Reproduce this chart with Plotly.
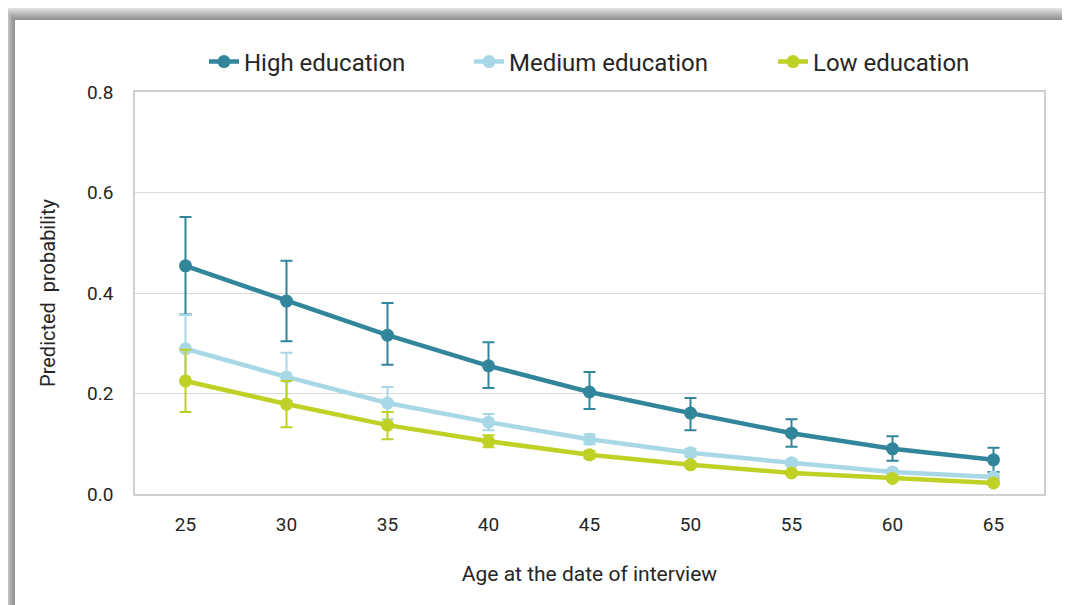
import plotly.graph_objects as go

ages = [25, 30, 35, 40, 45, 50, 55, 60, 65]

high = [0.454, 0.384, 0.316, 0.255, 0.203, 0.161, 0.121, 0.090, 0.068]
high_up = [0.097, 0.080, 0.064, 0.047, 0.040, 0.030, 0.028, 0.025, 0.024]
high_down = [0.097, 0.080, 0.059, 0.044, 0.034, 0.034, 0.027, 0.024, 0.024]

medium = [0.289, 0.233, 0.181, 0.143, 0.109, 0.082, 0.062, 0.044, 0.034]
medium_up = [0.067, 0.048, 0.032, 0.016, 0.010, 0.008, 0.006, 0.005, 0.005]
medium_down = [0.067, 0.048, 0.032, 0.016, 0.010, 0.008, 0.006, 0.005, 0.005]

low = [0.225, 0.179, 0.137, 0.105, 0.078, 0.058, 0.042, 0.031, 0.022]
low_up = [0.062, 0.046, 0.026, 0.012, 0.007, 0.005, 0.004, 0.003, 0.003]
low_down = [0.062, 0.046, 0.028, 0.012, 0.007, 0.005, 0.004, 0.003, 0.003]

names = ["High education", "Medium education", "Low education"]
colors = ["#31869B", "#A8D8E5", "#BFD124"]
legend_ids = ["legend", "legend2", "legend3"]
legend_px = [204, 469, 773]  # left edge of each legend entry (page px)

font = "Roboto, Arial"

# the page body has an 8px margin, so work in page pixels and shift
OFF = 8
FW, FH = 1070 - OFF, 605 - OFF
L, R, T, B = 135, 1044, 92, 494
W, H = R - L, B - T


def px(x):
    return (x - L) / W


def py(y):
    return (B - y) / H


fig = go.Figure()
for name, y, up, down, c, lg in zip(names, [high, medium, low],
                                    [high_up, medium_up, low_up],
                                    [high_down, medium_down, low_down], colors, legend_ids):
    fig.add_trace(go.Scatter(
        x=ages, y=y, name=name, mode="lines+markers", legend=lg,
        line=dict(color=c, width=4.5),
        marker=dict(color=c, size=13),
        error_y=dict(type="data", array=up, arrayminus=down, visible=True,
                     color=c, thickness=2, width=6),
    ))

# gray drop shadow around the chart frame (top and left)
shapes = []
steps = 10
for i in range(steps):
    g = int(250 - (250 - 145) * (i + 1) / steps)
    col = f"rgb({g},{g},{g})"
    top_y0 = 6 + i * 1.4
    left_x0 = 2 + i * 1.3
    shapes.append(dict(type="rect", xref="paper", yref="paper",
                       x0=px(max(left_x0, OFF)), x1=px(1070), y0=py(max(top_y0, OFF)), y1=py(20),
                       fillcolor=col, line=dict(width=0), layer="below"))
    shapes.append(dict(type="rect", xref="paper", yref="paper",
                       x0=px(max(left_x0, OFF)), x1=px(15), y0=py(max(top_y0, OFF)), y1=py(605),
                       fillcolor=col, line=dict(width=0), layer="below"))

legends = {}
for lg, lx in zip(legend_ids, legend_px):
    legends[lg] = dict(orientation="h", x=px(lx), xanchor="left", y=py(62), yanchor="middle",
                       font=dict(size=24, color="#262626"), bgcolor="rgba(0,0,0,0)")

fig.update_layout(
    width=FW, height=FH,
    margin=dict(l=L - OFF, r=FW - (R - OFF), t=T - OFF, b=FH - (B - OFF)),
    paper_bgcolor="white", plot_bgcolor="white",
    font=dict(family=font, size=19, color="#262626"),
    showlegend=True,
    shapes=shapes,
    xaxis=dict(range=[22.5, 67.5], tickvals=ages, ticktext=[str(a) for a in ages],
               showgrid=False, zeroline=False, showline=True, linecolor="#d0d0d0",
               linewidth=1.5, mirror=True, ticks="", ticklabelstandoff=12,
               tickfont=dict(size=19),
               title=dict(text="Age at the date of interview", font=dict(size=21),
                          standoff=32)),
    yaxis=dict(range=[0, 0.8], dtick=0.2, tickformat=".1f",
               showgrid=True, gridcolor="#d9d9d9", gridwidth=1.2,
               zeroline=False, showline=True, linecolor="#d0d0d0", linewidth=1.5,
               mirror=True, ticks="", ticklabelstandoff=16,
               tickfont=dict(size=19),
               title=dict(text="Predicted  probability", font=dict(size=20),
                          standoff=26)),
    **legends,
)

fig.write_html("out.html")
